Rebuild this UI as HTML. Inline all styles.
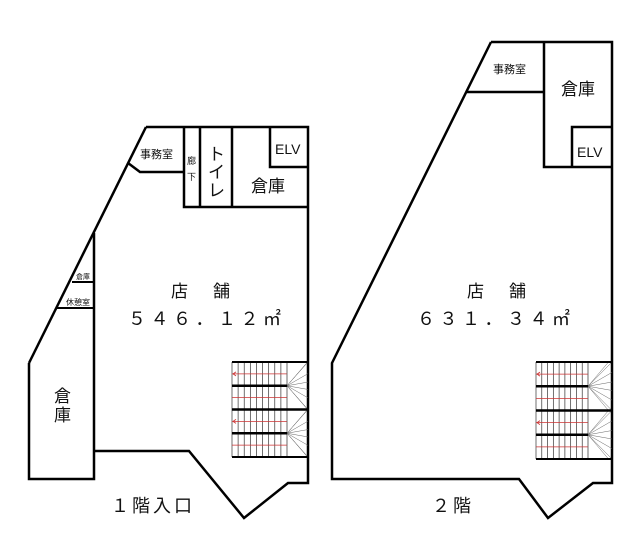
<!DOCTYPE html>
<html><head><meta charset="utf-8"><style>
html,body{margin:0;padding:0;background:#fff;}
svg{display:block;}
text{font-family:"Liberation Sans","Noto Sans CJK JP",sans-serif;fill:#111;}
</style></head><body>
<svg id="s" width="640" height="545" viewBox="0 0 640 545" xmlns="http://www.w3.org/2000/svg">
<g fill="none" stroke="#000" stroke-width="2.5" stroke-linejoin="miter">
<polyline points="146,127 308,127 308,483 288,483 244,518 189,451 94,451"/>
<line x1="146" y1="127" x2="29" y2="363"/>
<polyline points="29,363 29,479 94,479 94,233"/>
<polyline points="128,163 140,172 184,172"/>
<polyline points="184,127 184,207 308,207"/>
<line x1="200" y1="127" x2="200" y2="207"/>
<line x1="232" y1="127" x2="232" y2="207"/>
<polyline points="270,127 270,167 308,167"/>
<line x1="72" y1="282" x2="94" y2="282" stroke-width="2"/>
<line x1="57" y1="308" x2="94" y2="308" stroke-width="2"/>
<polyline points="491,42 612,42 612,483 593,483 548,518 519,479 332,479 332,363 491,42"/>
<line x1="467" y1="92" x2="544" y2="92"/>
<polyline points="544,42 544,167 612,167"/>
<polyline points="572,167 572,127 612,127"/>
</g>
<g id="st"></g>
<g font-size="11">
<text x="140" y="158">事務室</text>
<text x="493" y="73">事務室</text>
</g>
<text x="187" y="164" font-size="9">廊</text>
<text x="187" y="180" font-size="9">下</text>
<text x="208" y="160" font-size="17">ト</text>
<text x="208" y="178" font-size="17">イ</text>
<text x="208" y="196" font-size="17">レ</text>
<text x="251" y="192" font-size="17">倉庫</text>
<text x="275" y="154" font-size="14">ELV</text>
<text x="561" y="95" font-size="17">倉庫</text>
<text x="577" y="157" font-size="14">ELV</text>
<text x="76" y="279" font-size="7">倉庫</text>
<text x="66" y="305" font-size="8">休憩室</text>
<text x="54" y="402" font-size="17">倉</text>
<text x="54" y="421" font-size="17">庫</text>
<text x="171" y="297" font-size="17">店</text>
<text x="213" y="297" font-size="17">舗</text>
<text x="128" y="325" font-size="18" letter-spacing="4.5">５４６．１２㎡</text>
<text x="467" y="297" font-size="17">店</text>
<text x="509" y="297" font-size="17">舗</text>
<text x="417" y="325" font-size="18" letter-spacing="4.5">６３１．３４㎡</text>
<text x="111" y="512" font-size="18" letter-spacing="3">１階入口</text>
<text x="432" y="512" font-size="18" letter-spacing="3">２階</text>
</svg>
<script>
var g=document.getElementById('st'),ns='http://www.w3.org/2000/svg';
function L(x1,y1,x2,y2,c,w){var l=document.createElementNS(ns,'line');l.setAttribute('x1',x1);l.setAttribute('y1',y1);l.setAttribute('x2',x2);l.setAttribute('y2',y2);l.setAttribute('stroke',c);l.setAttribute('stroke-width',w);g.appendChild(l);}
function stairs(x0,x1,top,bot,px){
 var mid=(top+bot)/2,h=(bot-top)/4;
 for(var i=0;i<=9;i++){var x=x0+(px-x0)*i/9;L(x,top,x,bot,'#333',0.7);}
 [0,1].forEach(function(k){
  var t=top+k*2*h,p=t+h;
  L(x0,t+h/2,px,t+h/2,'#c33',0.8);L(x0,t+h*1.5,px,t+h*1.5,'#c33',0.8);
  for(var a=0;a<=9;a++){var ang=-Math.PI/2+Math.PI*a/9;var r=60;var ex=px+Math.cos(ang)*r,ey=p+Math.sin(ang)*r;
   if(ex>x1){ey=p+(ey-p)*(x1-px)/(ex-px);ex=x1;} if(ey<t)ey=t; if(ey>t+2*h)ey=t+2*h; L(px,p,ex,ey,'#666',0.5);}
  L(x0,p,px,p,'#000',2.5);
  L(x0+1,t+h/2,x0+4,t+h/2-2,'#c33',0.8);L(x0+1,t+h/2,x0+4,t+h/2+2,'#c33',0.8);
 });
 L(x0,top,x1,top,'#000',2);L(x0,mid,x1,mid,'#000',2.5);L(x0,bot,x1,bot,'#000',2);
}
stairs(232,308,362,457,287);
stairs(536,612,362,459,588);
</script>
</body></html>
